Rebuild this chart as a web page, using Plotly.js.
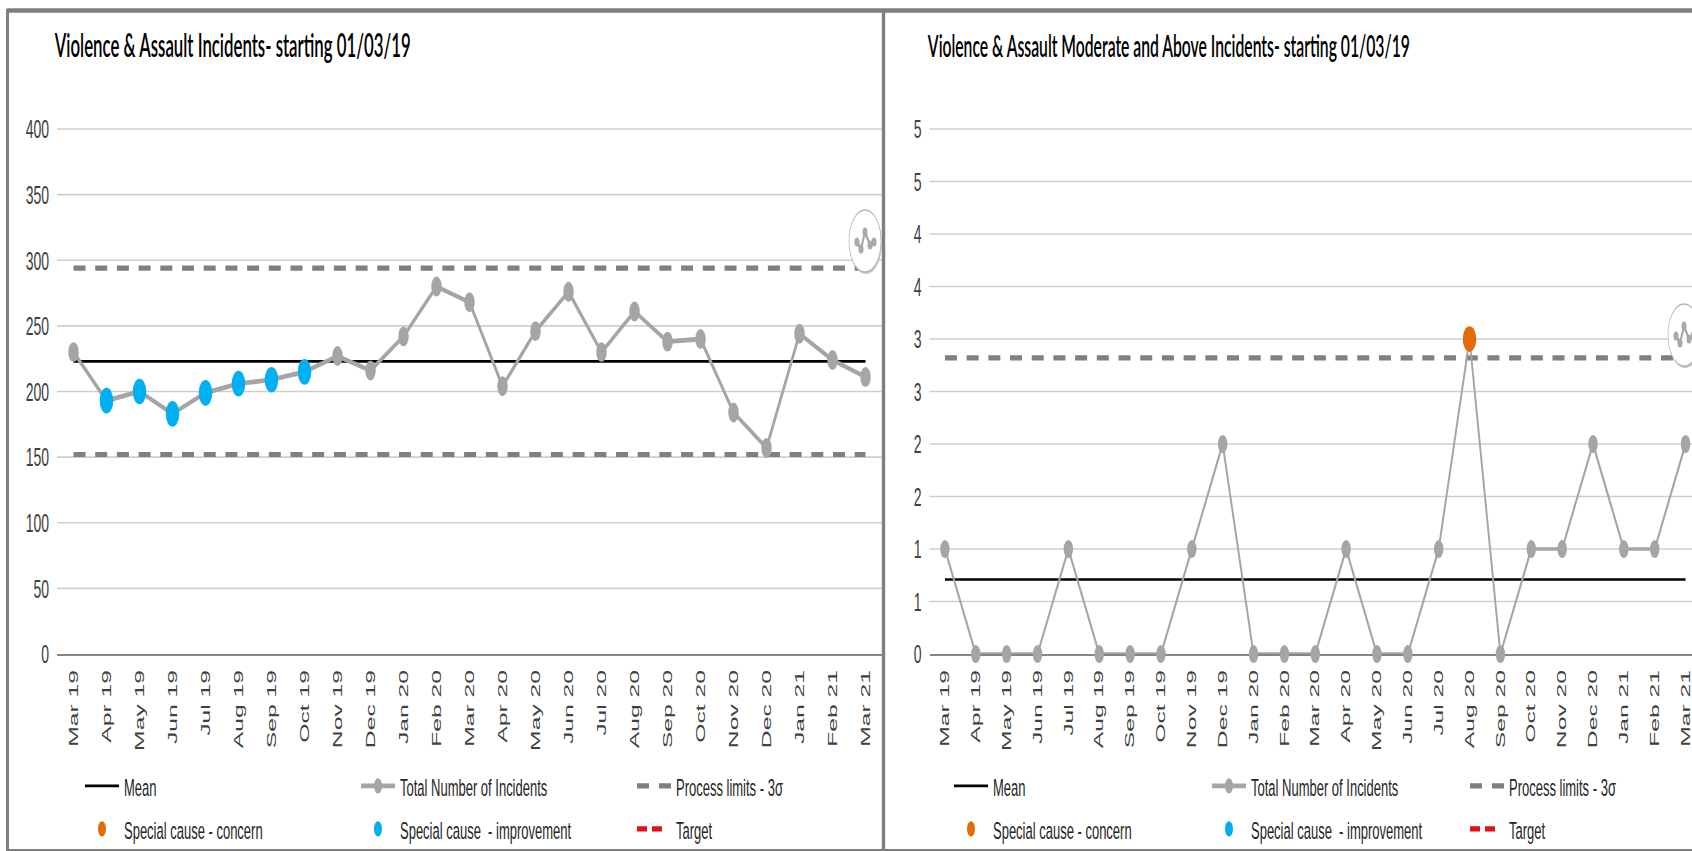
<!DOCTYPE html>
<html>
<head>
<meta charset="utf-8">
<script src="https://cdn.plot.ly/plotly-3.0.1.min.js"></script>
<style>
  html, body { margin: 0; padding: 0; width: 1692px; height: 851px; overflow: hidden; background: #fff; }
  #chart { width: 1720px; height: 448px; transform-origin: 0 0; transform: scale(1, 1.8996); }
</style>
</head>
<body>
<div id="chart"></div>
<script>
// Month labels shared by both SPC charts
const months = ['Mar 19','Apr 19','May 19','Jun 19','Jul 19','Aug 19','Sep 19','Oct 19','Nov 19','Dec 19',
  'Jan 20','Feb 20','Mar 20','Apr 20','May 20','Jun 20','Jul 20','Aug 20','Sep 20','Oct 20','Nov 20','Dec 20',
  'Jan 21','Feb 21','Mar 21'];

// All violence & assault incidents
const allIncidents = [230,193,200,183,199,206,209,215,227,216,242,280,268,204,246,276,230,261,238,240,184,157,244,224,211];
const allMean = 223;
const allUpperLimit = 294;
const allLowerLimit = 152;
const allImprovementMonths = ['Apr 19','May 19','Jun 19','Jul 19','Aug 19','Sep 19','Oct 19'];
const allImprovementValues = [193,200,183,199,206,209,215];
const allTicks = [0,50,100,150,200,250,300,350,400];

// Moderate and above incidents
const moderateIncidents = [1,0,0,0,1,0,0,0,1,2,0,0,0,1,0,0,1,3,0,1,1,2,1,1,2];
const moderateMean = 0.71;
const moderateUpperLimit = 2.82;
const moderateConcernMonths = ['Aug 20'];
const moderateConcernValues = [3];
const moderateTicks = [0,0.5,1,1.5,2,2.5,3,3.5,4,4.5,5];
const moderateTickLabels = ['0','1','1','2','2','3','3','4','4','5','5'];

const titles = ['Violence & Assault Incidents- starting 01/03/19',
                'Violence & Assault Moderate and Above Incidents- starting 01/03/19'];

const FIG_W = 1720, FIG_H = 448, PAGE_H = 851;
const px = v => v / FIG_W;
const py = v => 1 - v / PAGE_H;

const GREY = '#A5A5A5', LIMIT = '#808080', BLUE = '#00B0F0', ORANGE = '#E36C0A', RED = '#E3101E';
const FONT = '"Liberation Sans", Arial, sans-serif';

// The value axis runs a hair past its top tick so that tick keeps its gridline
const PLOT_BOTTOM = 654, TOP_TICK = 129, PLOT_TOP = 125;
const headroom = (PLOT_BOTTOM - PLOT_TOP) / (PLOT_BOTTOM - TOP_TICK);

function panelTraces(xa, ya, series) {
  const first = months[0], last = months[months.length - 1];
  const t = [];
  const common = { xaxis: xa, yaxis: ya, showlegend: false, hoverinfo: 'skip', cliponaxis: false };
  series.limits.forEach(v => t.push(Object.assign({}, common, {
    x: [first, last], y: [v, v], mode: 'lines',
    line: { color: LIMIT, width: 2.7, dash: '12px,9.7px' }
  })));
  t.push(Object.assign({}, common, {
    x: [first, last], y: [series.mean, series.mean], mode: 'lines',
    line: { color: '#000', width: 1.4 }
  }));
  t.push(Object.assign({}, common, {
    x: months, y: series.values, mode: 'lines+markers',
    line: { color: GREY, width: series.lineWidth },
    marker: { color: GREY, size: series.pointSize }
  }));
  if (series.better) t.push(Object.assign({}, common, {
    x: series.better[0], y: series.better[1], mode: 'markers', marker: { color: BLUE, size: 13.5 }
  }));
  if (series.worse) t.push(Object.assign({}, common, {
    x: series.worse[0], y: series.worse[1], mode: 'markers', marker: { color: ORANGE, size: 13.5 }
  }));
  return t;
}

// Legend keys are empty series: they carry the smaller key markers and the unused Target style
function legendKeys(xa, ya, row1, row2) {
  const key = (legend, name, style) => Object.assign({
    x: [months[0]], y: [null], xaxis: xa, yaxis: ya, name, legend, showlegend: true, hoverinfo: 'skip'
  }, style);
  return [
    key(row1, 'Mean', { mode: 'lines', line: { color: '#000', width: 1.4 } }),
    key(row1, 'Total Number of Incidents', { mode: 'lines+markers', line: { color: GREY, width: 2.5 }, marker: { color: GREY, size: 8 } }),
    key(row1, 'Process limits - 3σ', { mode: 'lines', line: { color: LIMIT, width: 2.7, dash: '12px,10px,12px,100px' } }),
    key(row2, 'Special cause - concern', { mode: 'markers', marker: { color: ORANGE, size: 8 } }),
    key(row2, 'Special cause  - improvement', { mode: 'markers', marker: { color: BLUE, size: 8 } }),
    key(row2, 'Target', { mode: 'lines', line: { color: RED, width: 2.7, dash: '10px,5px,10px,100px' } })
  ];
}

const data = [].concat(
  panelTraces('x', 'y', {
    values: allIncidents, mean: allMean, limits: [allUpperLimit, allLowerLimit],
    better: [allImprovementMonths, allImprovementValues], lineWidth: 2.5, pointSize: 10.5
  }),
  panelTraces('x2', 'y2', {
    values: moderateIncidents, mean: moderateMean, limits: [moderateUpperLimit],
    worse: [moderateConcernMonths, moderateConcernValues], lineWidth: 1.9, pointSize: 9.5
  }),
  legendKeys('x', 'y', 'legend', 'legend2'),
  legendKeys('x2', 'y2', 'legend3', 'legend4')
);

function xAxis(x0, x1, anchor) {
  return {
    domain: [px(x0), px(x1)], anchor, type: 'category', categoryorder: 'array', categoryarray: months,
    range: [-0.5, months.length - 0.5], tickmode: 'array', tickvals: months, ticktext: months,
    tickangle: -90, ticklen: 0, ticklabelstandoff: 2, showgrid: false, zeroline: false,
    showline: true, linecolor: '#868686', linewidth: 1.2, layer: 'below traces',
    tickfont: { family: FONT, size: 13, color: '#404040' }
  };
}
function yAxis(top, ticks, labels, anchor) {
  return {
    domain: [py(PLOT_BOTTOM), py(PLOT_TOP)], anchor, range: [0, top * headroom],
    tickmode: 'array', tickvals: ticks, ticktext: labels,
    ticklen: 0, ticklabelstandoff: 7, showgrid: true, gridcolor: '#CFCFCF', gridwidth: 0.9,
    zeroline: false, showline: false, layer: 'below traces',
    tickfont: { family: FONT, size: 14, color: '#404040' }
  };
}
function legendRow(x, yPx, entry) {
  return {
    x: px(x), y: py(yPx), xanchor: 'left', yanchor: 'middle', orientation: 'h',
    bgcolor: 'rgba(0,0,0,0)', borderwidth: 0, itemwidth: 34, entrywidth: entry, entrywidthmode: 'pixels',
    itemclick: false, itemdoubleclick: false,
    font: { family: FONT, size: 13, color: '#262626' }
  };
}

// Marker-trend badge that sits at the end of each chart's upper limit
function badge(cx, cy) {
  const ring = { type: 'circle', xref: 'paper', yref: 'paper', layer: 'above' };
  const wave = [[-8,1],[-4,8],[0,-9],[5,4],[9,1]];
  const path = wave.map((p, i) => (i ? 'L' : 'M') + px(cx + p[0]) + ',' + py(cy + p[1])).join(' ');
  const shapes = [
    Object.assign({}, ring, { x0: px(cx - 15), x1: px(cx + 17), y0: py(cy + 33), y1: py(cy - 29),
      fillcolor: '#C4C4C4', line: { width: 0 } }),
    Object.assign({}, ring, { x0: px(cx - 16), x1: px(cx + 16), y0: py(cy + 31), y1: py(cy - 31),
      fillcolor: '#FFFFFF', line: { color: '#B5B5B5', width: 0.7 } }),
    { type: 'path', xref: 'paper', yref: 'paper', layer: 'above', path, line: { color: '#A9A9A9', width: 2 } }
  ];
  wave.forEach(p => shapes.push(Object.assign({}, ring, {
    x0: px(cx + p[0] - 2.5), x1: px(cx + p[0] + 2.5), y0: py(cy + p[1] + 4.5), y1: py(cy + p[1] - 4.5),
    fillcolor: '#A9A9A9', line: { width: 0 }
  })));
  return shapes;
}

// Panel frame rules, in page pixels
const rule = (x0, y0, x1, y1, w) => ({
  type: 'line', xref: 'paper', yref: 'paper', layer: 'above',
  x0: px(x0), x1: px(x1), y0: py(y0), y1: py(y1), line: { color: '#7F7F7F', width: w }
});

const titleNote = (x, size, text) => ({
  text, xref: 'paper', yref: 'paper', x: px(x), y: py(45), xanchor: 'left', yanchor: 'middle',
  showarrow: false, font: { family: 'Lato, sans-serif', size, color: '#000', weight: 600 }
});

const layout = {
  width: FIG_W, height: FIG_H, margin: { l: 0, r: 0, t: 0, b: 0, autoexpand: false },
  paper_bgcolor: '#fff', plot_bgcolor: 'rgba(0,0,0,0)', hovermode: false,
  xaxis: xAxis(57, 882, 'y'),
  yaxis: yAxis(400, allTicks, allTicks.map(String), 'x'),
  xaxis2: xAxis(929.5, 1701, 'y2'),
  yaxis2: yAxis(5, moderateTicks, moderateTickLabels, 'x2'),
  legend: legendRow(80, 786, 227),
  legend2: legendRow(80, 829, 227),
  legend3: legendRow(949, 786, 209),
  legend4: legendRow(949, 829, 209),
  annotations: [titleNote(52, 16.8, titles[0]), titleNote(925, 15.7, titles[1])],
  shapes: [
    rule(7, 10.5, 1720, 10.5, 2.4),
    rule(7.5, 9, 7.5, 851, 3),
    rule(883.5, 9, 883.5, 851, 3.4),
    rule(7, 850, 1720, 850, 1)
  ].concat(badge(865, 241), badge(1684, 335))
};

Plotly.newPlot('chart', data, layout, { displayModeBar: false, staticPlot: true });
</script>
</body>
</html>
